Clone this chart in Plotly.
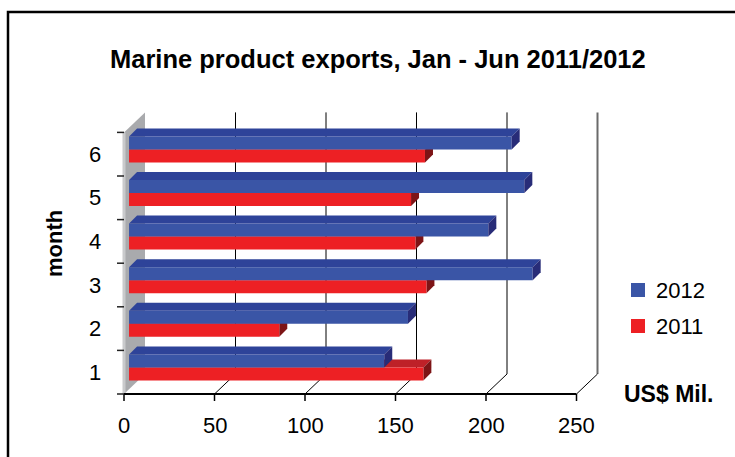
import plotly.graph_objects as go

# ---- data -------------------------------------------------------------
MONTHS = [1, 2, 3, 4, 5, 6]
EXPORTS_2012 = [141.0, 154.1, 223.0, 198.5, 218.4, 211.4]   # US$ mil.
EXPORTS_2011 = [162.6, 83.0, 164.3, 158.2, 155.8, 163.5]    # US$ mil.
X_TICKS = [0, 50, 100, 150, 200, 250]
SERIES_NAMES = ["2012", "2011"]

# ---- look -------------------------------------------------------------
W, H = 735, 457
BLUE = {"front": "#3A55A6", "top": "#2E4399", "side": "#282C78"}
RED = {"front": "#ED2024", "top": "#BE2128", "side": "#7D1416"}
WALL = "#A9AAAD"
WALL_EDGE = "#C9CACC"
TEXT_FONT = "Liberation Sans"
TICK_FONT = "Liberation Sans Narrow, Liberation Sans"

# oblique projection of the 3-D box, in pixels
PX0, PY0 = 124, 394          # front plane: value 0 on the floor
SX, SY = 1.81, 43.6          # px per US$ mil., px per month band
DEPTH_DX, DEPTH_DY = 21, 20  # shift from the front plane to the back wall
BAR_D = 0.24                 # depth of the bars' front faces
BAR_DX, BAR_DY = 8, 8        # drawn thickness of each bar
BAR_H = 13                   # px height of one bar's front face
N_BANDS = len(MONTHS)

# axis units: x = US$ mil. and y = month, both on the bars' front plane
X_LEFT = -(PX0 + BAR_D * DEPTH_DX) / SX
X_RIGHT = X_LEFT + W / SX
Y_TOP = 0.5 + (PY0 - BAR_D * DEPTH_DY) / SY
Y_BOTTOM = Y_TOP - H / SY
BAR_W = BAR_H / SY
TOP_DX, TOP_DY = BAR_DX / SX, BAR_DY / SY


def to_axis(v, c, d):
    """Point at value v, band coordinate c (0..N on the front plane) and depth d (0 front, 1 back)."""
    return (v + (d - BAR_D) * DEPTH_DX / SX,
            c + 0.5 + (d - BAR_D) * DEPTH_DY / SY)


def path(points):
    return "M " + " L ".join(f"{x:.4f},{y:.4f}" for x, y in points) + " Z"


def paper(px, py):
    return px / W, 1 - py / H


def poly(points, color, layer):
    return dict(type="path", path=path(points), xref="x", yref="y",
                fillcolor=color, line=dict(width=0), layer=layer)


def seg(p0, p1, color="black", width=1, layer="below"):
    return dict(type="line", xref="x", yref="y", x0=p0[0], y0=p0[1],
                x1=p1[0], y1=p1[1], line=dict(color=color, width=width), layer=layer)


fig = go.Figure()
shapes, annotations = [], []

# ---- box: left wall, back-wall grid, floor --------------------------
shapes.append(poly([to_axis(0, 0, 0), to_axis(0, N_BANDS, 0),
                    to_axis(0, N_BANDS, 1), to_axis(0, 0, 1)], WALL, "below"))
shapes.append(seg(to_axis(0, 0, 0), to_axis(0, N_BANDS, 0), WALL_EDGE, 3))
for v in X_TICKS[1:]:
    last = v == X_TICKS[-1]
    shapes.append(seg(to_axis(v, 0, 1), to_axis(v, N_BANDS, 1),
                      "#6A6A6A" if last else "black", 2 if last else 1))
    shapes.append(seg(to_axis(v, 0, 0), to_axis(v, 0, 1)))

# front floor edge with its ticks and labels
shapes.append(seg(to_axis(0, 0, 0), to_axis(X_TICKS[-1], 0, 0), width=2, layer="above"))
for v in X_TICKS:
    x, y = to_axis(v, 0, 0)
    shapes.append(seg((x, y), (x, y - 7 / SY), width=1.5, layer="above"))
    annotations.append(dict(x=x, y=y, xref="x", yref="y", text=str(v), showarrow=False,
                            xanchor="center", yanchor="middle", yshift=-31,
                            font=dict(family=TICK_FONT, size=22, color="black")))

# left edge ticks and month labels
for c in range(N_BANDS + 1):
    x, y = to_axis(0, c, 0)
    shapes.append(seg((x, y), (x - 7 / SX, y), "#222222", 1.5, "above"))
for m in MONTHS:
    x, y = to_axis(0, m - 0.5, 0)
    annotations.append(dict(x=x, y=y, xref="x", yref="y", text=str(m), showarrow=False,
                            xanchor="center", yanchor="middle", xshift=-29,
                            font=dict(family=TICK_FONT, size=22, color="black")))

# ---- bars ------------------------------------------------------------
for name, values, col, offset, layer in [
        ("2011", EXPORTS_2011, RED, -BAR_W, "between"),
        ("2012", EXPORTS_2012, BLUE, 0.0, "above")]:
    fig.add_trace(go.Bar(name=name, x=values, y=MONTHS, orientation="h",
                         width=BAR_W, offset=offset, showlegend=False,
                         marker=dict(color=col["front"], line=dict(width=0))))
    for m, v in zip(MONTHS, values):
        y0, y1 = m + offset, m + offset + BAR_W
        shapes.append(poly([(0, y1), (v, y1), (v + TOP_DX, y1 + TOP_DY),
                            (TOP_DX, y1 + TOP_DY)], col["top"], layer))
        shapes.append(poly([(v, y0), (v, y1), (v + TOP_DX, y1 + TOP_DY),
                            (v + TOP_DX, y0 + TOP_DY)], col["side"], layer))

# ---- legend -----------------------------------------------------------
for i, (name, col) in enumerate(zip(SERIES_NAMES, [BLUE, RED])):
    cy = 290 + 36 * i
    x0, y0 = paper(631, cy - 7)
    x1, y1 = paper(645, cy + 7)
    shapes.append(dict(type="rect", xref="paper", yref="paper", x0=x0, y0=y0, x1=x1, y1=y1,
                       fillcolor=col["front"], line=dict(width=0)))
    tx, ty = paper(654, cy)
    annotations.append(dict(x=tx, y=ty, xref="paper", yref="paper", text=name,
                            showarrow=False, xanchor="left", yanchor="middle",
                            font=dict(family=TEXT_FONT, size=22, color="black")))

# ---- titles -----------------------------------------------------------
tx, ty = paper(377.5, 59)
annotations.append(dict(x=tx, y=ty, xref="paper", yref="paper",
                        text="<b>Marine product exports, Jan - Jun 2011/2012</b>",
                        showarrow=False, xanchor="center", yanchor="middle",
                        font=dict(family=TEXT_FONT, size=25.5, color="black")))
tx, ty = paper(54, 244)
annotations.append(dict(x=tx, y=ty, xref="paper", yref="paper", text="<b>month</b>",
                        showarrow=False, textangle=-90, xanchor="center", yanchor="middle",
                        font=dict(family=TEXT_FONT, size=22, color="black")))
tx, ty = paper(668, 394)
annotations.append(dict(x=tx, y=ty, xref="paper", yref="paper", text="<b>US$ Mil.</b>",
                        showarrow=False, xanchor="center", yanchor="middle",
                        font=dict(family=TEXT_FONT, size=23, color="black")))

# outer frame (runs past the right and bottom edges)
fx, fy = paper(8, 12)
shapes.append(dict(type="rect", xref="paper", yref="paper", x0=fx, y0=fy, x1=1.05, y1=-0.05,
                   line=dict(color="black", width=2.5), fillcolor="rgba(0,0,0,0)"))

fig.update_layout(
    width=W, height=H, margin=dict(l=0, r=0, t=0, b=0),
    paper_bgcolor="white", plot_bgcolor="white",
    barmode="overlay", showlegend=False,
    xaxis=dict(range=[X_LEFT, X_RIGHT], visible=False, fixedrange=True),
    yaxis=dict(range=[Y_BOTTOM, Y_TOP], visible=False, fixedrange=True),
    shapes=shapes, annotations=annotations,
)

fig.write_html("out.html")
